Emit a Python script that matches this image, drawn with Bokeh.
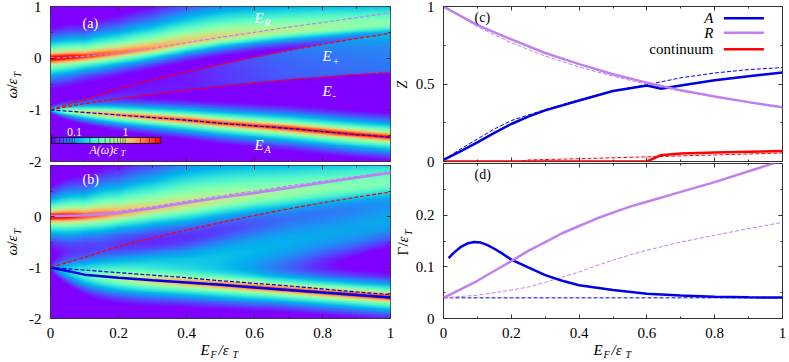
import numpy as np
from bokeh.plotting import figure
from bokeh.layouts import row, column
from bokeh.models import FixedTicker, LinearAxis, LinearColorMapper
from bokeh.core.properties import value
from bokeh.embed import file_html
from bokeh.resources import INLINE

# Values
xs = [0, .1, .2, .3, .4, .5, .6, .7, .8, .9, 1]
E_R = [0.0, .035, .10, .19, .30, .405, .50, .60, .69, .785, .88]
E_plus = [-1, -.80, -.59, -.42, -.27, -.12, .02, .15, .27, .38, .48]
E_minus = [-1, -.88, -.78, -.70, -.62, -.55, -.48, -.42, -.37, -.32, -.28]
E_A = [-1, -1.05, -1.10, -1.15, -1.20, -1.26, -1.31, -1.36, -1.42, -1.48, -1.53]
R_sol_b = [.01, .02, .07, .16, .27, .37, .46, .56, .66, .76, .86]
A_sol_b_x = [0, .05, .1, .2, .3, .4, .5, .6, .7, .8, .9, 1]
A_sol_b = [-1, -1.07, -1.14, -1.20, -1.25, -1.295, -1.34, -1.39, -1.44, -1.49, -1.54, -1.59]

ridge_R_a = [0, .035, .10, .19, .30, .40, .47, .53, .58, .63, .67]
peak_R_a = [8, 3.9, 2.4, 1.7, 1.25, 1.0, .8, .68, .6, .51, .46]
g_up_a = [.04, .06, .09, .12, .16, .19, .21, .22, .22, .22, .22]
g_low_a = [.04, .045, .05, .055, .06, .066, .07, .075, .08, .085, .09]
dens_a = [0, .005, .015, .02, .025, .035, .045, .055, .06, .065, .07]
ridge_R_b = [0, .01, .06, .14, .23, .32, .40, .47, .54, .60, .66]
peak_R_b = [8, 3.3, 1.65, 1.1, .93, .75, .62, .54, .48, .44, .4]
g_up_b = [.04, .08, .14, .2, .25, .28, .3, .3, .3, .3, .3]
g_low_b = [.04, .06, .08, .1, .12, .13, .14, .15, .15, .15, .15]
inc_cen = [-1, -1, -.97, -.93, -.88, -.78, -.66, -.52, -.38, -.25, -.1]
inc_wid = [.1, .12, .15, .17, .2, .24, .28, .3, .3, .3, .3]
inc_amp = [0, .02, .05, .08, .09, .1, .1, .095, .09, .09, .09]

Z_A_sol_x = [0, .05, .1, .15, .2, .25, .3, .4, .5, .6, .64, .7, .8, .9, 1]
Z_A_sol = [.01, .065, .123, .185, .242, .29, .33, .394, .455, .49, .47, .49, .524, .55, .574]
Z_A_das_x = [0, .05, .1, .15, .2, .25, .3, .4, .5, .6, .7, .8, .9, 1]
Z_A_das = [.01, .08, .145, .21, .264, .30, .335, .398, .455, .495, .54, .571, .593, .606]
Z_R_sol = [1, .88, .788, .70, .628, .563, .509, .459, .42, .383, .35]
Z_R_das = [1, .87, .766, .68, .61, .55, .498, .455, .416, .38, .346]
Z_c_sol_x = [0, .6, .64, .7, .8, .9, 1]
Z_c_sol = [0, 0, .04, .052, .058, .063, .068]
Z_c_das_x = [0, .22, .25, .4, .6, .65, .8, 1]
Z_c_das = [0, 0, .01, .018, .03, .033, .042, .055]

G_A_sol_x = [.015, .03, .05, .07, .09, .11, .13, .15, .175, .2, .25, .3, .35, .4, .5, .6, .7, .8, .9, 1]
G_A_sol = [.117, .127, .138, .145, .148, .147, .142, .135, .125, .114, .0988, .084, .073, .0645, .055, .048, .0445, .042, .041, .0406]
G_R_x = [0, .1, .2, .25, .3, .35, .4, .45, .5, .55, .6, .7, .8, .9, 1]
G_R_sol = [.04, .073, .111, .131, .148, .165, .179, .193, .205, .2165, .226, .245, .264, .285, .306]
G_R_das = [.04, .045, .055, .061, .07, .08, .09, .102, .113, .123, .132, .148, .161, .174, .186]
G_A_das = [.04, .04, .04, .04, .04, .04, .04, .04, .04, .04, .04]

A_LOW, A_HIGH = 0.035, 5.0
BAR_TICKS = [.04, .05, .06, .07, .08, .09, .1, .2, .3, .4, .5, .6, .7, .8, .9, 1, 2, 3, 4]

SERIF = "Liberation Serif"
PURPLE = "#c080f0"
BLUE = "#0000e6"
RED = "#ff0000"
palette = []
for t in np.linspace(0, 1, 256):
    r, g, b = min(1, abs(2 * t - .5)), np.sin(np.pi * t), np.cos(np.pi * t / 2)
    palette.append("#%02x%02x%02x" % (int(r * 255), int(g * 255), int(b * 255)))
mapper = LinearColorMapper(palette=palette, low=np.log10(A_LOW), high=np.log10(A_HIGH))

X = np.linspace(0, 1, 340)
W_AX = np.linspace(-2, 1, 240)
XX, WW = np.meshgrid(X, W_AX)


def at(a, xp=xs):
    return np.interp(XX, xp, a)


def lor(e, g, z):
    return z * g / np.pi / ((WW - e) ** 2 + g ** 2)


def band(e, peak, gu, gl):
    d = WW - e
    g = np.where(d > 0, gu, gl)
    return peak / (1 + (d / g) ** 2)


def box(dens):
    Ep, Em = at(E_plus), at(E_minus)
    s = .012
    return dens * (np.arctan((Ep - WW) / s) - np.arctan((Em - WW) / s)) / np.pi


img_a = band(at(ridge_R_a), at(peak_R_a), at(g_up_a), at(g_low_a)) + lor(at(E_A), at(G_A_das), at(Z_A_das, Z_A_das_x)) + box(at(dens_a))
img_b = (band(at(ridge_R_b), at(peak_R_b), at(g_up_b), at(g_low_b))
         + lor(at(A_sol_b, A_sol_b_x), at(G_A_sol, G_A_sol_x), at(Z_A_sol, Z_A_sol_x))
         + at(inc_amp) * np.exp(-.5 * ((WW - at(inc_cen)) / at(inc_wid)) ** 2))
img_a, img_b = np.log10(img_a), np.log10(img_b)

# Transparent page-sized layer that holds the annotation texts
top = figure(frame_width=789, frame_height=362, x_range=(0, 789), y_range=(362, 0), x_axis_type=None, y_axis_type=None,
             output_backend="svg", toolbar_location=None, min_border=0, background_fill_color=None,
             border_fill_color=None, outline_line_color=None)
top.grid.visible = False


def text(x, y, s, size=14, style="normal", color="black", angle=0, align="left"):
    off = size * .33
    if angle:
        x = x - off
    else:
        y = y - off
    top.text([x], [y], text=[s], text_font=value(SERIF), text_font_size=value(f"{size}px"), text_font_style=style,
             text_color=color, angle=angle, text_align=align, text_baseline="alphabetic")


def panel(yr, yt, ym, fw, fh, bl, br, bt, bb, labels_x, over=None):
    p = figure(frame_width=fw, frame_height=fh, x_range=(0, 1), y_range=yr, output_backend="svg",
               toolbar_location=None, min_border_left=bl, min_border_right=br, min_border_top=bt,
               min_border_bottom=bb, background_fill_color=None, border_fill_color=None)
    p.grid.visible = False
    p.outline_line_color = "#333333"
    p.outline_line_width = 1
    p.add_layout(LinearAxis(), "above")
    p.add_layout(LinearAxis(), "right")
    xt, xm = [0, .2, .4, .6, .8, 1], [.1, .3, .5, .7, .9]
    for ax in p.xaxis:
        ax.ticker = FixedTicker(ticks=xt, minor_ticks=xm)
    for ax in p.yaxis:
        ax.ticker = FixedTicker(ticks=yt, minor_ticks=ym)
    for ax in p.axis:
        ax.major_tick_in = 4
        ax.major_tick_out = 0
        ax.minor_tick_in = 2
        ax.minor_tick_out = 0
        ax.axis_line_color = None
        ax.major_tick_line_color = "#333333"
        ax.minor_tick_line_color = "#333333"
        ax.major_label_text_font = SERIF
        ax.major_label_text_font_size = "15px"
        ax.major_label_text_color = "black"
        ax.major_label_standoff = 9
    hidden = [(p.above[0], xt), (p.right[0], yt)] + ([] if labels_x else [(p.below[0], xt)])
    for ax, ticks in hidden:
        ax.major_label_overrides = {t: "" for t in ticks}
        ax.major_label_text_font_size = "1px"
        ax.major_label_standoff = 0
    if labels_x:
        p.below[0].major_label_overrides = {0: "0", 1: "1"}
    p.left[0].major_label_overrides = over or {}
    return p


over = {1: "1", 0: "0", -1: "-1", -2: "-2"}
over_b = {1: "", 0: "0", -1: "-1", -2: "-2"}
OV = 12
a = panel((-2, 1), [-2, -1, 0, 1], [-1.5, -.5, .5], 340, 155, 50, 5, 6, 2 + OV, False, over)
b = panel((-2, 1), [-2, -1, 0, 1], [-1.5, -.5, .5], 340, 153, 50, 5, 2, 44, True, over_b)
c = panel((0, 1), [0, .5, 1], [.25, .75], 339, 155, 48, 7, 6, 1 + OV, False, {0: "0", .5: "0.5", 1: "1"})
d = panel((0, .3), [0, .1, .2], [.05, .15, .25], 339, 155, 48, 7, 1, 44, True, {0: "0", .1: "0.1", .2: "0.2"})
b.margin = (-OV, 0, 0, 0)
d.margin = (-OV, 0, 0, 0)

a.image(image=[img_a], x=0, y=-2, dw=1, dh=3, color_mapper=mapper, level="image")
b.image(image=[img_b], x=0, y=-2, dw=1, dh=3, color_mapper=mapper, level="image")

dash = "4 2"
a.line(xs, E_R, color=PURPLE, line_width=1.2, line_dash=dash)
a.line(xs, E_plus, color=RED, line_width=1.2, line_dash=dash)
a.line(xs, E_minus, color=RED, line_width=1.2, line_dash=dash)
a.line(xs, E_A, color=BLUE, line_width=1.2, line_dash=dash)
b.line(xs, E_R, color=PURPLE, line_width=1.2, line_dash=dash)
b.line(xs, E_plus, color=RED, line_width=1.2, line_dash=dash)
b.line(xs, E_A, color=BLUE, line_width=1.2, line_dash=dash)
b.line(xs, R_sol_b, color=PURPLE, line_width=2.5)
b.line(A_sol_b_x, A_sol_b, color=BLUE, line_width=2.5)

# colour bar of panel (a)
bar = np.log10(np.geomspace(A_LOW, A_HIGH, 220))[None, :]
BAR_X = (.003, .324)
BAR_Y = (-1.65, -1.535)


def bar_pos(v):
    return BAR_X[0] + (BAR_X[1] - BAR_X[0]) * (np.log10(v) - np.log10(A_LOW)) / (np.log10(A_HIGH) - np.log10(A_LOW))


a.image(image=[bar], x=BAR_X[0], y=BAR_Y[0], dw=BAR_X[1] - BAR_X[0], dh=BAR_Y[1] - BAR_Y[0], color_mapper=mapper)
tx = [bar_pos(v) for v in BAR_TICKS]
a.segment(tx, BAR_Y[0], tx, BAR_Y[1], color="black", line_width=.6, line_alpha=.7)
a.quad(left=BAR_X[0], right=BAR_X[1], bottom=BAR_Y[0], top=BAR_Y[1], fill_color=None, line_color="black", line_width=.8)

c.line(Z_A_das_x, Z_A_das, color=BLUE, line_width=1, line_dash=dash)
c.line(xs, Z_R_das, color=PURPLE, line_width=1, line_dash=dash)
c.line(Z_c_das_x, Z_c_das, color=RED, line_width=1, line_dash=dash)
c.line(Z_A_sol_x, Z_A_sol, color=BLUE, line_width=2.5)
c.line(xs, Z_R_sol, color=PURPLE, line_width=2.5)
c.line(Z_c_sol_x, Z_c_sol, color=RED, line_width=2.5)
for yy, col, nm, st, by in [(.925, BLUE, "A", "italic", 22), (.83, PURPLE, "R", "italic", 37), (.725, RED, "continuum", "normal", 53)]:
    c.segment([.827], [yy], [.945], [yy], color=col, line_width=2.5)
    text(713, by, nm, size=15, style=st, align="right")

d.line(xs, G_A_das, color=BLUE, line_width=1, line_dash=dash)
d.line(G_R_x, G_R_das, color=PURPLE, line_width=1, line_dash=dash)
d.line(G_A_sol_x, G_A_sol, color=BLUE, line_width=2.5)
d.line(G_R_x, G_R_sol, color=PURPLE, line_width=2.5)


def ylab(x, y0, parts):
    y = y0
    for s, size, style, adv, dx in parts:
        text(x + dx, y, s, size=size, style=style, angle=np.pi / 2)
        y -= adv


omega = [("\u03c9", 15, "italic", 10, 0), ("/", 15, "normal", 4, 0), ("\u03b5", 15, "italic", 7, 0), ("T", 10, "italic", 6, 4)]
ylab(16, 98, omega)
ylab(16, 255, omega)
ylab(407, 88, [("Z", 14, "italic", 9, 0)])
ylab(407, 255, [("\u0393", 15, "normal", 9, 0), ("/", 15, "normal", 4, 0), ("\u03b5", 15, "italic", 7, 0), ("T", 10, "italic", 6, 4)])


def xlab(x0):
    text(x0, 354, "E", 15, "italic")
    text(x0 + 10, 357, "F", 10, "italic")
    text(x0 + 18, 354, "/\u03b5", 15, "italic")
    text(x0 + 32, 357, "T", 10, "italic")


xlab(200)
xlab(593)

WH = "white"
text(82, 28, "(a)", 14, color=WH)
text(82, 184, "(b)", 14, color=WH)
text(474, 22, "(c)", 14)
text(474, 179, "(d)", 14)
for x, y, main, sub, sy in [(254, 22, "E", "R", 25), (322, 60, "E", "+", 64), (322, 95, "E", "-", 98), (254, 149, "E", "A", 152)]:
    text(x, y, main, 15, "italic", WH)
    text(x + 10, sy, sub, 10, "italic", WH)
text(74, 135, "0.1", 12, color=WH, align="center")
text(125, 135, "1", 12, color=WH, align="center")
text(89, 153, "A(\u03c9)\u03b5", 12, "italic", WH)
text(120, 155, "T", 9, "italic", WH)

top.margin = (-362, 0, 0, 0)
layout = column(row(column(a, b), column(c, d)), top)
open("out.html", "w").write(file_html(layout, INLINE))
